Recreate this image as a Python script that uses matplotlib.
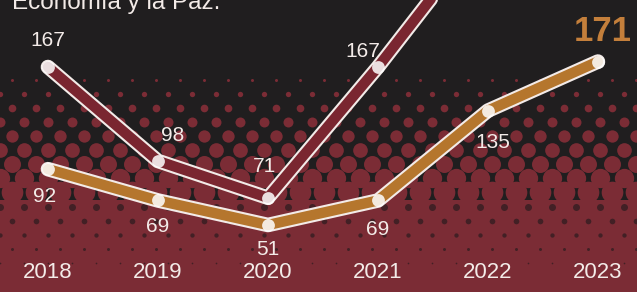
import numpy as np
import matplotlib.pyplot as plt
import matplotlib.patheffects as pe

years = [2018, 2019, 2020, 2021, 2022, 2023]
maroon_vals = [167, 98, 71, 167, 271, np.nan]
orange_vals = [92, 69, 51, 69, 135, 171]

DARK = '#201e1f'
RED_BG = '#7b2c35'
MAROON = '#7a2630'
ORANGE = '#b5762d'
WHITE = '#f3ebe8'

W, H = 637, 292
fig = plt.figure(figsize=(W / 100, H / 100), dpi=100)
ax = fig.add_axes([0, 0, 1, 1])
ax.set_xlim(2017.564, 2023.355)
ax.set_ylim(1.8, 216.2)
ax.axis('off')
ax.set_facecolor(DARK)
fig.patch.set_facecolor(DARK)


def px(y):
    # pixel row -> axes fraction
    return 1 - y / H


# halftone background (decoration)
ax.add_patch(plt.Rectangle((0, 0), 1, px(200), transform=ax.transAxes,
                           color=RED_BG, zorder=0, lw=0))
for i, y in enumerate(np.arange(80, 206, 14)):
    d = 3 + (y - 80) / 120 * 20
    xs = np.arange(-12 + (i % 2) * 12, W + 24, 24)
    ax.scatter(xs / W, np.full(len(xs), px(y)), s=(d * 0.72) ** 2,
               color=RED_BG, lw=0, transform=ax.transAxes, zorder=0.5)
for i, y in enumerate(np.arange(207, 265, 14)):
    d = 7 - (y - 207) / 58 * 5.5
    xs = np.arange(0 + (i % 2) * 12, W + 24, 24)
    ax.scatter(xs / W, np.full(len(xs), px(y)), s=(d * 0.72) ** 2,
               color='#2a1c1f', alpha=0.7, lw=0, transform=ax.transAxes, zorder=0.6)

outline = [pe.Stroke(linewidth=10.5, foreground=WHITE), pe.Normal()]
ax.plot(years, orange_vals, color=ORANGE, lw=7.5, solid_capstyle='round',
        solid_joinstyle='round', path_effects=outline, zorder=3)
ax.plot(years, maroon_vals, color=MAROON, lw=7.5, solid_capstyle='round',
        solid_joinstyle='round', path_effects=outline, zorder=4)
ax.scatter(years, orange_vals, s=85, color='white', alpha=0.85, lw=0, zorder=5)
ax.scatter(years[:4], maroon_vals[:4], s=85, color='white', alpha=0.85, lw=0, zorder=5)

font = ['Liberation Sans', 'DejaVu Sans']
maroon_off = [(0, 27), (15, 25), (-3, 31), (-15, 16)]
orange_off = [(-3, -27), (0, -26), (0, -25), (0, -29), (5, -32)]
for x, v, (dx, dy) in zip(years, maroon_vals, maroon_off):
    ax.annotate(f'{v:.0f}', (x, v), xytext=(dx * 0.72, dy * 0.72),
                textcoords='offset points', ha='center', va='center',
                color=WHITE, fontsize=15, family=font, zorder=6)
for x, v, (dx, dy) in zip(years, orange_vals, orange_off):
    ax.annotate(f'{v:.0f}', (x, v), xytext=(dx * 0.72, dy * 0.72),
                textcoords='offset points', ha='center', va='center',
                color=WHITE, fontsize=15, family=font, zorder=6)
ax.annotate(f'{orange_vals[-1]}', (years[-1], orange_vals[-1]), xytext=(5 * 0.72, 30 * 0.72),
            textcoords='offset points', ha='center', va='center', color='#c47f3b',
            fontsize=25, fontweight='bold', family=font, zorder=6)

for x in years:
    ax.text(x, px(273), str(x), transform=ax.get_xaxis_transform(), ha='center',
            va='center', color=WHITE, fontsize=16, family=font, zorder=6)

ax.text(12 / W, px(9), 'Economía y la Paz.', transform=ax.transAxes, ha='left',
        va='baseline', color=WHITE, fontsize=17.5, family=font, zorder=6)

fig.savefig('out.png', dpi=100, facecolor=DARK)
